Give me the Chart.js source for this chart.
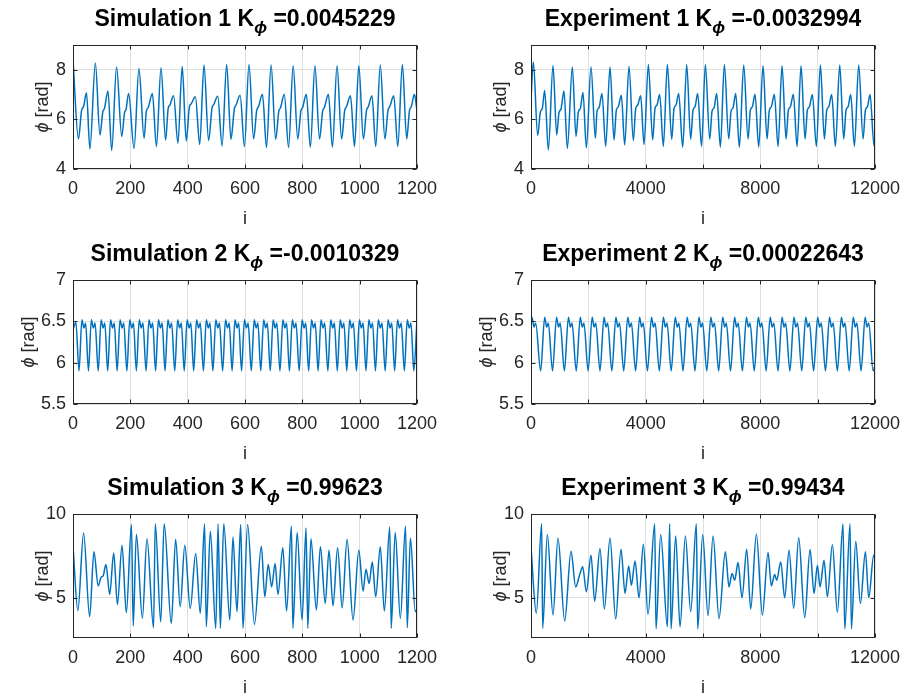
<!DOCTYPE html>
<html>
<head>
<meta charset="utf-8">
<script src="https://cdn.jsdelivr.net/npm/chart.js@4.4.1/dist/chart.umd.min.js"></script>
<style>
    body {
        margin: 0;
        width: 917px;
        height: 699px;
        overflow: hidden;
        position: relative;
        background: #fff;
        font-family: 'Liberation Sans', Arial, sans-serif;
        color: #000;
    }
    canvas { position: absolute; }
    .title {
        position: absolute;
        width: 440px;
        margin-left: -220px;
        text-align: center;
        font-weight: bold;
        font-size: 23px;
        line-height: 28px;
        white-space: nowrap;
    }
    .title sub {
        font-size: 17px;
        font-style: italic;
        vertical-align: -7px;
        line-height: 0;
    }
    .ylab, .xlab {
        position: absolute;
        font-size: 18px;
        line-height: 22px;
        white-space: nowrap;
        color: #262626;
    }
    .ylab {
        width: 100px;
        margin-left: -50px;
        margin-top: -11px;
        text-align: center;
        transform: rotate(-90deg);
    }
    .xlab {
        width: 40px;
        margin-left: -20px;
        margin-top: -11px;
        text-align: center;
    }
</style>
</head>
<body>
<script>

/* ==========================================
   Data: phi [rad] against sample index i
========================================== */

const simTicks = [0, 200, 400, 600, 800, 1000, 1200];
const expTicks = [0, 2000, 4000, 6000, 8000, 10000, 12000];
const expLabelled = [0, 4000, 8000, 12000];

const rowOneTicks = [4, 6, 8];
const rowTwoTicks = [5.5, 6, 6.5, 7];
const rowThreeTicks = [5, 10];

const rowRanges = [[4, 9], [5.5, 7], [2.6, 10]];

const titleNames = ['Simulation 1', 'Experiment 1', 'Simulation 2', 'Experiment 2', 'Simulation 3', 'Experiment 3'];
const titleGains = ['0.0045229', '-0.0032994', '-0.0010329', '0.00022643', '0.99623', '0.99434'];

const simOne = [
    [0,8.40],[19,5.21],[30,6.36],[37,6.52],[47,7.07],[59,4.81],[78,8.27],[94,5.37],[104,6.30],[110,6.45],
    [122,7.15],[135,4.75],[152,8.11],[170,5.31],[180,6.28],[185,6.40],[194,7.04],[213,4.83],[230,8.05],
    [248,5.24],[256,6.33],[262,6.47],[277,7.04],[291,4.91],[307,8.08],[323,5.17],[332,6.44],[338,6.58],
    [351,6.95],[366,5.04],[381,8.13],[395,5.13],[406,6.50],[412,6.62],[427,6.91],[442,4.99],[457,8.19],
    [473,5.15],[485,6.46],[491,6.60],[505,6.93],[520,4.93],[536,8.21],[551,5.20],[563,6.44],[569,6.58],
    [583,6.97],[598,4.91],[614,8.21],[630,5.21],[641,6.37],[647,6.51],[661,7.01],[675,4.87],[691,8.19],
    [707,5.20],[718,6.33],[724,6.47],[737,7.01],[752,4.87],[768,8.16],[784,5.21],[795,6.34],[801,6.48],
    [814,7.01],[828,4.88],[844,8.16],[860,5.21],[871,6.34],[877,6.48],[891,7.01],[905,4.88],[921,8.16],
    [937,5.21],[948,6.37],[954,6.51],[968,6.95],[982,4.91],[997,8.16],[1013,5.21],[1024,6.37],[1030,6.51],
    [1043,6.95],[1056,4.91],[1072,8.19],[1088,5.21],[1099,6.37],[1105,6.51],[1119,6.95],[1133,4.91],
    [1149,8.21],[1164,5.21],[1174,6.37],[1180,6.51],[1191,7.01],[1200,6.35]
];

const expOne = [
    [0,6.80],[81,8.31],[233,5.35],[326,6.30],[396,6.45],[477,7.17],[605,4.77],[768,8.17],[896,5.37],
    [977,6.28],[1047,6.42],[1151,7.15],[1268,4.83],[1442,8.11],[1570,5.31],[1651,6.30],[1721,6.44],
    [1814,7.08],[1931,4.85],[2093,8.11],[2245,5.24],[2303,6.33],[2373,6.47],[2477,7.04],[2605,4.91],
    [2756,8.11],[2896,5.17],[2977,6.37],[3047,6.51],[3152,6.97],[3268,4.97],[3419,8.13],[3570,5.15],
    [3652,6.44],[3722,6.58],[3826,6.95],[3943,4.99],[4094,8.21],[4245,5.17],[4326,6.44],[4396,6.58],
    [4489,7.00],[4617,4.91],[4757,8.21],[4908,5.20],[4989,6.44],[5059,6.58],[5152,7.04],[5292,4.88],
    [5431,8.21],[5571,5.20],[5652,6.37],[5722,6.51],[5815,7.04],[5950,4.91],[6082,8.21],[6234,5.21],
    [6315,6.33],[6385,6.47],[6478,7.04],[6606,4.88],[6745,8.21],[6897,5.21],[6978,6.33],[7048,6.47],
    [7141,7.04],[7269,4.88],[7420,8.19],[7571,5.21],[7652,6.37],[7722,6.51],[7815,7.01],[7943,4.88],
    [8094,8.16],[8234,5.21],[8315,6.37],[8385,6.51],[8490,7.01],[8618,4.91],[8757,8.16],[8897,5.21],
    [8978,6.37],[9048,6.51],[9153,7.01],[9281,4.91],[9420,8.16],[9560,5.21],[9641,6.37],[9711,6.51],
    [9816,7.00],[9955,4.91],[10095,8.19],[10234,5.21],[10316,6.37],[10386,6.51],[10490,7.00],[10618,4.91],
    [10769,8.19],[10909,5.21],[10990,6.37],[11060,6.51],[11153,7.00],[11281,4.91],[11432,8.19],[11583,5.21],
    [11665,6.37],[11735,6.51],[11828,7.00],[11967,4.93],[12000,5.10]
];

const simTwo = [
    [0,6.40],[10,6.49],
    [21,5.90],[31,6.52],[38,6.42],[44,6.48],[54,5.90],[64,6.52],[71,6.42],[77,6.48],
    [88,5.90],[98,6.52],[105,6.42],[111,6.48],[121,5.90],[131,6.52],[138,6.42],[144,6.48],
    [154,5.90],[164,6.52],[171,6.42],[177,6.48],[188,5.90],[198,6.52],[205,6.42],[211,6.48],
    [221,5.90],[231,6.52],[238,6.42],[244,6.48],[255,5.90],[265,6.52],[272,6.42],[278,6.48],
    [288,5.90],[298,6.52],[305,6.42],[311,6.48],[321,5.90],[331,6.52],[338,6.42],[344,6.48],
    [355,5.90],[365,6.52],[372,6.42],[378,6.48],[388,5.90],[398,6.52],[405,6.42],[411,6.48],
    [421,5.90],[431,6.52],[438,6.42],[444,6.48],[455,5.90],[465,6.52],[472,6.42],[478,6.48],
    [488,5.90],[498,6.52],[505,6.42],[511,6.48],[522,5.90],[532,6.52],[539,6.42],[545,6.48],
    [555,5.90],[565,6.52],[572,6.42],[578,6.48],[588,5.90],[598,6.52],[605,6.42],[611,6.48],
    [622,5.90],[632,6.52],[639,6.42],[645,6.48],[655,5.90],[665,6.52],[672,6.42],[678,6.48],
    [688,5.90],[698,6.52],[705,6.42],[711,6.48],[722,5.90],[732,6.52],[739,6.42],[745,6.48],
    [755,5.90],[765,6.52],[772,6.42],[778,6.48],[789,5.90],[799,6.52],[806,6.42],[812,6.48],
    [822,5.90],[832,6.52],[839,6.42],[845,6.48],[855,5.90],[865,6.52],[872,6.42],[878,6.48],
    [889,5.90],[899,6.52],[906,6.42],[912,6.48],[922,5.90],[932,6.52],[939,6.42],[945,6.48],
    [955,5.90],[965,6.52],[972,6.42],[978,6.48],[989,5.90],[999,6.52],[1006,6.42],[1012,6.48],
    [1022,5.90],[1032,6.52],[1039,6.42],[1045,6.48],[1055,5.90],[1065,6.52],[1072,6.42],[1078,6.48],
    [1089,5.90],[1099,6.52],[1106,6.42],[1112,6.48],[1122,5.90],[1132,6.52],[1139,6.42],[1145,6.48],
    [1156,5.90],[1166,6.52],[1173,6.42],[1179,6.48],[1189,5.90],[1200,6.52]
];

const expTwo = [
    [0,6.50],[35,6.55],[105,6.43],[163,6.48],
    [337,5.90],[477,6.55],[546,6.43],[604,6.48],[751,5.90],[891,6.55],[960,6.43],[1018,6.48],
    [1165,5.90],[1305,6.55],[1374,6.43],[1432,6.48],[1579,5.90],[1719,6.55],[1788,6.43],[1846,6.48],
    [1993,5.90],[2133,6.55],[2202,6.43],[2260,6.48],[2407,5.90],[2547,6.55],[2616,6.43],[2674,6.48],
    [2821,5.90],[2961,6.55],[3030,6.43],[3088,6.48],[3235,5.90],[3375,6.55],[3444,6.43],[3502,6.48],
    [3649,5.90],[3789,6.55],[3858,6.43],[3916,6.48],[4063,5.90],[4203,6.55],[4272,6.43],[4330,6.48],
    [4477,5.90],[4617,6.55],[4686,6.43],[4744,6.48],[4891,5.90],[5031,6.55],[5100,6.43],[5158,6.48],
    [5305,5.90],[5445,6.55],[5514,6.43],[5572,6.48],[5719,5.90],[5859,6.55],[5928,6.43],[5986,6.48],
    [6133,5.90],[6273,6.55],[6342,6.43],[6400,6.48],[6547,5.90],[6687,6.55],[6756,6.43],[6814,6.48],
    [6961,5.90],[7101,6.55],[7170,6.43],[7228,6.48],[7375,5.90],[7515,6.55],[7584,6.43],[7642,6.48],
    [7789,5.90],[7929,6.55],[7998,6.43],[8056,6.48],[8203,5.90],[8343,6.55],[8412,6.43],[8470,6.48],
    [8617,5.90],[8757,6.55],[8826,6.43],[8884,6.48],[9031,5.90],[9171,6.55],[9240,6.43],[9298,6.48],
    [9445,5.90],[9585,6.55],[9654,6.43],[9712,6.48],[9859,5.90],[9999,6.55],[10068,6.43],[10126,6.48],
    [10273,5.90],[10413,6.55],[10482,6.43],[10540,6.48],[10687,5.90],[10827,6.55],[10896,6.43],[10954,6.48],
    [11101,5.90],[11241,6.55],[11310,6.43],[11368,6.48],[11515,5.90],[11655,6.55],[11724,6.43],[11782,6.48],
    [11935,5.90],[12000,5.97]
];

const simThree = [
    [0,8.10],[17,4.23],[37,8.87],[58,3.87],[73,7.74],[88,5.71],[98,6.23],[105,6.31],[115,6.98],[128,5.20],
    [142,7.68],[155,4.60],[171,8.13],[186,4.11],[204,9.37],[210,3.31],[221,8.79],[242,3.77],[258,8.53],
    [281,3.21],[287,9.42],[306,3.57],[318,9.42],[343,3.47],[358,8.49],[374,4.46],[390,8.13],[409,4.37],
    [428,7.64],[444,4.07],[459,9.42],[465,3.27],[479,8.97],[498,3.17],[506,9.42],[514,3.17],[526,9.42],
    [547,3.67],[558,8.63],[572,4.17],[585,9.37],[593,3.17],[609,9.37],[633,3.41],[657,8.08],[669,5.06],
    [681,6.98],[693,5.65],[705,7.04],[715,5.20],[732,7.98],[745,4.21],[762,9.29],[767,3.17],[782,8.89],
    [799,3.67],[813,9.17],[819,3.17],[830,8.53],[849,4.27],[863,8.04],[880,4.66],[893,7.84],[907,4.52],
    [923,7.98],[939,4.40],[956,8.49],[977,3.67],[997,7.84],[1012,5.40],[1022,6.71],[1033,5.85],[1044,7.14],
    [1056,5.06],[1072,8.04],[1086,4.21],[1105,9.23],[1110,3.17],[1124,8.89],[1142,3.77],[1160,9.29],
    [1166,3.21],[1177,8.57],[1194,4.17],[1200,4.40]
];

const expThree = [
    [0,8.00],[186,4.07],[372,9.42],[407,3.17],[570,8.77],[768,3.97],[942,8.57],[1175,3.61],[1396,7.78],
    [1558,5.65],[1710,6.45],[1803,6.85],[1931,5.36],[2093,7.54],[2221,4.80],[2407,7.94],[2559,4.33],
    [2756,8.57],[2954,3.73],[3140,7.90],[3280,5.26],[3408,6.90],[3501,5.75],[3629,7.20],[3768,5.00],
    [3919,8.19],[4082,4.01],[4315,9.42],[4361,3.13],[4524,8.77],[4757,3.27],[4838,9.42],[4885,3.13],
    [5047,8.69],[5199,3.27],[5385,8.69],[5571,4.17],[5768,9.42],[5815,3.13],[5989,8.77],[6175,3.93],
    [6350,8.69],[6559,3.77],[6780,7.74],[6908,5.65],[7013,6.45],[7106,6.05],[7222,7.10],[7362,5.00],
    [7525,7.90],[7664,4.33],[7862,8.79],[8071,3.97],[8269,7.70],[8385,5.71],[8501,6.39],[8571,6.05],
    [8711,7.14],[8850,5.00],[9001,7.84],[9164,4.37],[9339,8.59],[9548,3.81],[9734,7.88],[9874,5.26],
    [9990,6.94],[10083,5.65],[10223,7.24],[10339,5.06],[10513,8.17],[10688,4.13],[10885,9.42],[10944,3.13],
    [11130,9.42],[11176,3.13],[11328,8.37],[11490,4.66],[11665,7.74],[11781,5.00],[11956,7.54],[12000,7.30]
];

/* ==========================================
   Layout of the 3 x 2 grid of axes
========================================== */

const BOX_W = 344;
const BOX_H = 124;
const colLeft = [73, 531];
const rowTop = [45, 280, 514];
const yLabelGap = [31, 45, 31];

const FONT = "'Liberation Sans', Arial, sans-serif";
const LINE_COLOR = '#0072BD';
const AXIS_COLOR = '#262626';
const GRID_COLOR = '#dfdfdf';

// Black frame with inward tick marks on all four sides
const axesBox = {
    id: 'axesBox',
    afterDraw(chart) {
        const { ctx, chartArea: a, scales } = chart;
        const l = Math.round(a.left) + 0.5;
        const r = Math.round(a.right) - 0.5;
        const t = Math.round(a.top) + 0.5;
        const b = Math.round(a.bottom) - 0.5;
        const len = 4;

        ctx.save();
        ctx.strokeStyle = AXIS_COLOR;
        ctx.lineWidth = 1;
        ctx.strokeRect(l, t, r - l, b - t);

        ctx.beginPath();
        scales.x.ticks.forEach(function (tick) {
            const px = Math.round(scales.x.getPixelForValue(tick.value)) + 0.5;
            ctx.moveTo(px, b);
            ctx.lineTo(px, b - len);
            ctx.moveTo(px, t);
            ctx.lineTo(px, t + len);
        });
        scales.y.ticks.forEach(function (tick) {
            const py = Math.round(scales.y.getPixelForValue(tick.value)) + 0.5;
            ctx.moveTo(l, py);
            ctx.lineTo(l + len, py);
            ctx.moveTo(r, py);
            ctx.lineTo(r - len, py);
        });
        ctx.stroke();
        ctx.restore();
    }
};

function addText(className, html, x, y) {
    const el = document.createElement('div');
    el.className = className;
    el.innerHTML = html;
    el.style.left = x + 'px';
    el.style.top = y + 'px';
    document.body.appendChild(el);
}

function createPanel(col, row, points, xTicks, xMax, yTicks, labelFilter) {

    const left = colLeft[col];
    const top = rowTop[row];
    const [yMin, yMax] = rowRanges[row];
    const index = row * 2 + col;

    const canvas = document.createElement('canvas');
    canvas.width = BOX_W + 90;
    canvas.height = BOX_H + 56;
    canvas.style.left = (left - 60) + 'px';
    canvas.style.top = (top - 12) + 'px';
    document.body.appendChild(canvas);

    new Chart(canvas, {
        type: 'line',
        data: {
            datasets: [
                {
                    data: points.map(function (p) {
                        return { x: p[0], y: p[1] };
                    }),
                    borderColor: LINE_COLOR,
                    borderWidth: 1.5,
                    pointRadius: 0,
                    fill: false,
                    cubicInterpolationMode: 'monotone'
                }
            ]
        },
        options: {
            responsive: false,
            animation: false,
            events: [],
            layout: {
                padding: { left: 0, top: 12, right: 30, bottom: 4 }
            },
            plugins: {
                legend: { display: false },
                tooltip: { enabled: false }
            },
            scales: {
                x: {
                    type: 'linear',
                    min: 0,
                    max: xMax,
                    afterBuildTicks: function (scale) {
                        scale.ticks = xTicks.map(function (v) { return { value: v }; });
                    },
                    afterFit: function (scale) {
                        scale.height = 40;
                        scale.paddingLeft = 0;
                        scale.paddingRight = 0;
                    },
                    border: { display: false },
                    grid: { color: GRID_COLOR, drawTicks: false },
                    ticks: {
                        padding: 9,
                        color: AXIS_COLOR,
                        autoSkip: false,
                        maxRotation: 0,
                        font: { family: FONT, size: 18 },
                        callback: function (value) {
                            return labelFilter(value) ? String(value) : '';
                        }
                    }
                },
                y: {
                    min: yMin,
                    max: yMax,
                    afterBuildTicks: function (scale) {
                        scale.ticks = yTicks.map(function (v) { return { value: v }; });
                    },
                    afterFit: function (scale) {
                        scale.width = 60;
                        scale.paddingTop = 0;
                        scale.paddingBottom = 0;
                    },
                    border: { display: false },
                    grid: { color: GRID_COLOR, drawTicks: false },
                    ticks: {
                        padding: 7,
                        color: AXIS_COLOR,
                        font: { family: FONT, size: 18 },
                        callback: function (value) {
                            return String(value);
                        }
                    }
                }
            }
        },
        plugins: [axesBox]
    });

    const cx = left + BOX_W / 2;
    addText('title', titleNames[index] + ' K<sub>ϕ</sub> =' + titleGains[index], cx, top - 41);
    addText('ylab', '<i>ϕ</i> [rad]', left - yLabelGap[row], top + BOX_H / 2);
    addText('xlab', 'i', cx, top + BOX_H + 49);
}

const allLabels = function () { return true; };
const everyOther = function (v) { return expLabelled.indexOf(v) !== -1; };

createPanel(0, 0, simOne, simTicks, 1200, rowOneTicks, allLabels);
createPanel(1, 0, expOne, expTicks, 12000, rowOneTicks, everyOther);
createPanel(0, 1, simTwo, simTicks, 1200, rowTwoTicks, allLabels);
createPanel(1, 1, expTwo, expTicks, 12000, rowTwoTicks, everyOther);
createPanel(0, 2, simThree, simTicks, 1200, rowThreeTicks, allLabels);
createPanel(1, 2, expThree, expTicks, 12000, rowThreeTicks, everyOther);

</script>
</body>
</html>
